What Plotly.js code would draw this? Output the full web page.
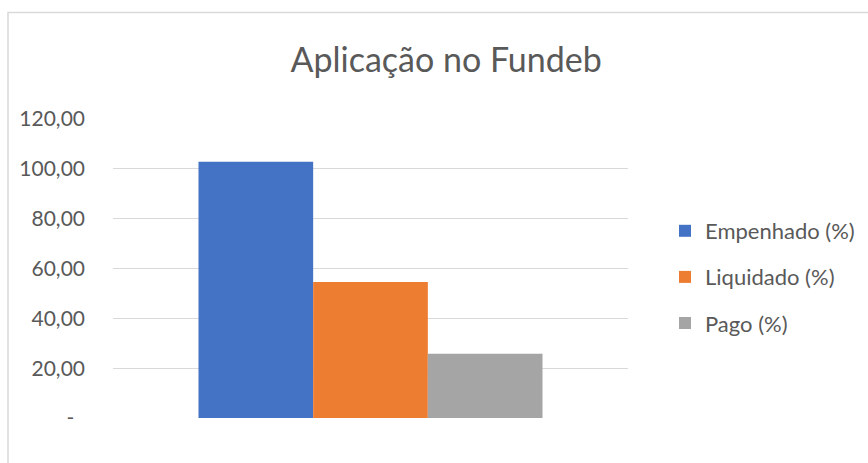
<!DOCTYPE html>
<html>
<head>
<meta charset="utf-8">
<script src="https://cdn.plot.ly/plotly-3.0.1.min.js"></script>
<style>html,body{margin:0;padding:0;background:#fff;}#chart{width:868px;height:463px;}</style>
</head>
<body>
<div id="chart"></div>
<script>
const categories = ['Fundeb'];
const seriesNames = ['Empenhado (%)', 'Liquidado (%)', 'Pago (%)'];
const empenhado = [102.8];
const liquidado = [54.6];
const pago = [25.8];
const seriesColors = ['#4472c4', '#ed7d31', '#a5a5a5'];
const tickValues = [0, 20, 40, 60, 80, 100, 120];
const tickLabels = ['-\u00a0\u00a0', '20,00', '40,00', '60,00', '80,00', '100,00', '120,00'];

const seriesValues = [empenhado, liquidado, pago];
const FONT = 'Lato, "Open Sans", sans-serif';
const traces = seriesValues.map((vals, i) => ({
  type: 'bar',
  x: categories,
  y: vals,
  name: seriesNames[i],
  legendgroup: 'g' + i,
  marker: {color: seriesColors[i], line: {width: 0}},
  hoverinfo: 'skip'
}));

const layout = {
  width: 868,
  height: 463,
  margin: {l: 113, r: 240, t: 119, b: 45, pad: 0, autoexpand: false},
  paper_bgcolor: '#ffffff',
  plot_bgcolor: '#ffffff',
  font: {family: FONT, color: '#595959'},
  title: {
    text: 'Aplicação no Fundeb',
    font: {family: FONT, size: 34, color: '#595959'},
    xref: 'container', yref: 'container',
    x: 0.514, y: 0.87, xanchor: 'center', yanchor: 'middle'
  },
  barmode: 'group',
  bargap: 0.332,
  bargroupgap: 0,
  xaxis: {
    showticklabels: false,
    showgrid: false,
    zeroline: false,
    showline: false,
    ticks: '',
    fixedrange: true
  },
  yaxis: {
    range: [0, 120],
    tickvals: tickValues,
    ticktext: tickLabels,
    tickfont: {family: FONT, size: 21, color: '#595959'},
    showgrid: true,
    gridcolor: '#d9d9d9',
    gridwidth: 1,
    zeroline: false,
    showline: false,
    ticks: '',
    ticklabelstandoff: 27,
    fixedrange: true
  },
  showlegend: true,
  legend: {
    xref: 'container', yref: 'container',
    x: 665 / 868, y: 1 - 277 / 463, xanchor: 'left', yanchor: 'middle',
    font: {family: FONT, size: 22, color: '#595959'},
    tracegroupgap: 14.5,
    traceorder: 'grouped',
    bgcolor: 'rgba(0,0,0,0)'
  },
  shapes: [{
    type: 'rect', xref: 'paper', yref: 'paper',
    x0: (8 - 113) / 515, x1: (880 - 113) / 515,
    y0: (418 - 480) / 299, y1: (418 - 12.5) / 299,
    line: {color: '#d9d9d9', width: 1.5},
    fillcolor: 'rgba(0,0,0,0)',
    layer: 'below'
  }]
};

Plotly.newPlot('chart', traces, layout, {staticPlot: true, displayModeBar: false});
</script>
</body>
</html>
